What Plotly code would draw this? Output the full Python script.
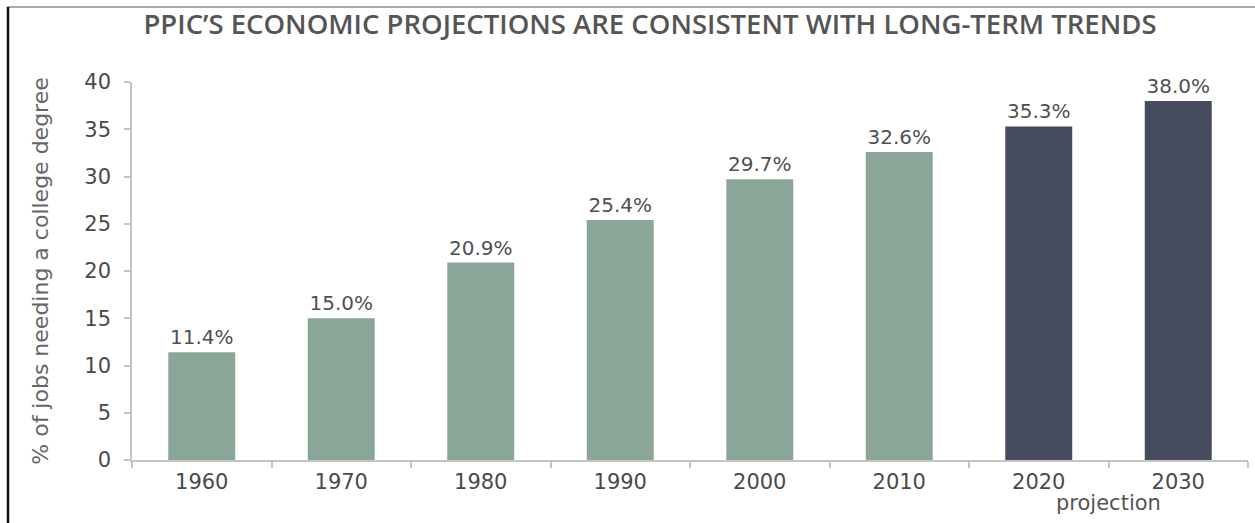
import plotly.graph_objects as go

years = ["1960", "1970", "1980", "1990", "2000", "2010", "2020", "2030"]
values = [11.4, 15.0, 20.9, 25.4, 29.7, 32.6, 35.3, 38.0]
is_projection = [False, False, False, False, False, False, True, True]
title_text = "PPIC’S ECONOMIC PROJECTIONS ARE CONSISTENT WITH LONG-TERM TRENDS"
y_title = "% of jobs needing a college degree"
y_ticks = [0, 5, 10, 15, 20, 25, 30, 35, 40]

GREEN = "#8aa699"
DARK = "#454c5e"
colors = [DARK if p else GREEN for p in is_projection]

W, H = 1255, 523
ML, MR, MT, MB = 132, 7, 82, 63
pw = W - ML - MR
ph = H - MT - MB

FONT = "DejaVu Sans"
TFONT = "Open Sans"

fig = go.Figure()
fig.add_trace(go.Bar(
    x=years, y=values,
    marker=dict(color=colors, line=dict(width=0)),
    width=0.48,
    text=[f"{v:.1f}%" for v in values],
    textposition="outside",
    textfont=dict(family=FONT, size=20, color="#505050"),
    cliponaxis=False,
    hoverinfo="skip",
))

def px_x(px):
    return (px - ML) / pw

def px_y(py):
    return (H - MB - py) / ph

fig.update_layout(
    width=W, height=H,
    margin=dict(l=ML, r=MR, t=MT, b=MB, autoexpand=False),
    paper_bgcolor="white", plot_bgcolor="white",
    showlegend=False,
    bargap=0.52,
    title=dict(text=title_text, x=650 / W, xanchor="center", xref="container",
               y=1 - 24 / H, yanchor="middle", yref="container",
               font=dict(family=TFONT, size=27.5, color="#555555", weight=600)),
    xaxis=dict(type="category", showgrid=False, showline=True, linecolor="#c4c4c4", linewidth=1.5,
               ticks="outside", tickson="boundaries", ticklen=6, tickcolor="#c4c4c4", tickwidth=1.5,
               ticklabelstandoff=2,
               tickfont=dict(family=FONT, size=21, color="#4a4a4a"), zeroline=False),
    yaxis=dict(range=[0, 40], tickvals=y_ticks, showgrid=False, showline=True,
               linecolor="#c4c4c4", linewidth=1.5, ticks="outside", ticklen=6,
               tickcolor="#c4c4c4", tickwidth=1.5, ticklabelstandoff=9,
               tickfont=dict(family=FONT, size=21, color="#4a4a4a"), zeroline=False,
               title=dict(text=y_title, standoff=30,
                          font=dict(family=FONT, size=22, color="#666666"))),
    annotations=[dict(text="projection", x=6.5, xref="x", y=0, yref="paper",
                      yshift=-43, showarrow=False, xanchor="center", yanchor="middle",
                      font=dict(family=FONT, size=21, color="#555555"))],
    shapes=[
        dict(type="line", xref="paper", yref="paper", x0=px_x(7), x1=px_x(W), y0=px_y(7), y1=px_y(7),
             line=dict(color="#aaaaaa", width=2)),
        dict(type="line", xref="paper", yref="paper", x0=px_x(8), x1=px_x(8), y0=px_y(7), y1=px_y(H),
             line=dict(color="#111111", width=2.5)),
    ],
)

fig.write_html("out.html")
